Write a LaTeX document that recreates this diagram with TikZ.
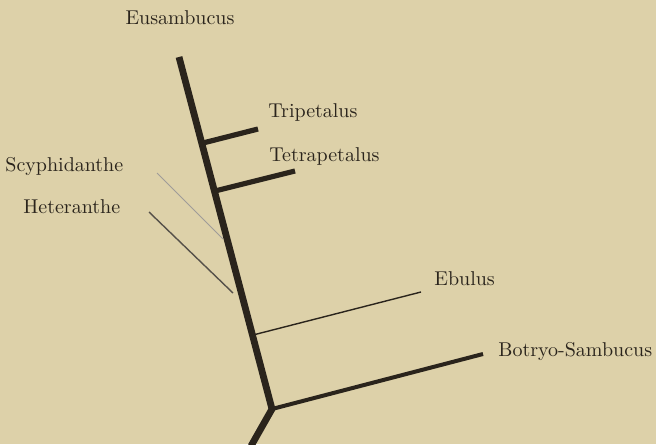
\documentclass[tikz,border=0pt]{standalone}
\begin{document}
\begin{tikzpicture}[x=0.5pt,y=-0.5pt,
  lbl/.style={font=\fontsize{10}{12}\selectfont, text=ink, inner sep=0pt},
  stem/.style={draw=ink, line width=3.4pt, line cap=butt, line join=miter},
  thickbr/.style={draw=ink, line width=2.6pt},
  medbr/.style={draw=ink, line width=2pt},
  thinbr/.style={draw=ink, line width=0.7pt},
  faintbr/.style={draw=ink!45, line width=0.5pt}]
\definecolor{paper}{RGB}{221,209,169}
\definecolor{ink}{RGB}{42,36,28}
\fill[paper] (0,0) rectangle (656,444);
\useasboundingbox (0,0) rectangle (656,444);
% labels
\node[lbl] (eus) at (180,18) {Eusambucus};
\node[lbl,anchor=west] (tri) at (268,112) {Tripetalus};
\node[lbl,anchor=west] (tet) at (269,156) {Tetrapetalus};
\node[lbl,anchor=west] (scy) at (5,166) {Scyphidanthe};
\node[lbl,anchor=west] (het) at (23,207) {Heteranthe};
\node[lbl,anchor=west] (ebu) at (434,279) {Ebulus};
\node[lbl,anchor=west] (bot) at (498,351) {Botryo-Sambucus};
% coordinates
\coordinate (top) at (179,57);
\coordinate (jn) at (272,409);
\coordinate (bot0) at (251,446);
\coordinate (triA) at (203,143);
\coordinate (triB) at (258,129);
\coordinate (tetA) at (215,191);
\coordinate (tetB) at (295,171);
\coordinate (scyA) at (157,173);
\coordinate (scyB) at (223,239);
\coordinate (hetA) at (149,212);
\coordinate (hetB) at (233,293);
\coordinate (ebuA) at (253,335);
\coordinate (ebuB) at (421,292);
\coordinate (botB) at (483,354);
% branches
\draw[faintbr] (scyA) -- (scyB);
\draw[thinbr, draw=ink!80] (hetA) -- (hetB);
\draw[thickbr] (triA) -- (triB);
\draw[thickbr] (tetA) -- (tetB);
\draw[thinbr] (ebuA) -- (ebuB);
\draw[medbr] (jn) -- (botB);
\draw[stem] (top) -- (jn) -- (bot0);
\end{tikzpicture}
\end{document}
